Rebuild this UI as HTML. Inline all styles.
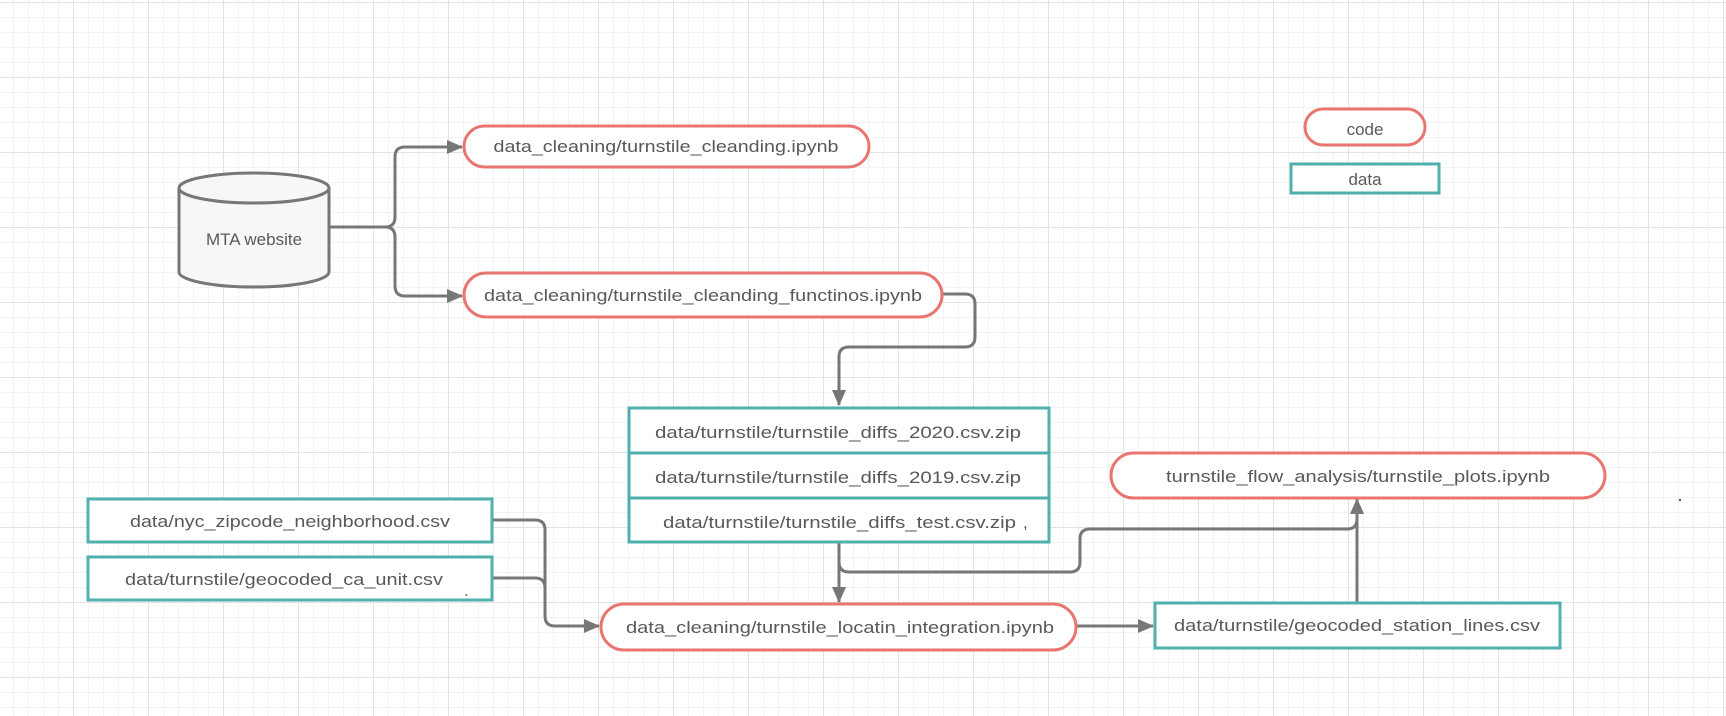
<!DOCTYPE html>
<html><head><meta charset="utf-8"><style>
html,body{margin:0;padding:0;}
body{width:1726px;height:716px;overflow:hidden;background:#fff;}
svg{display:block}
text{font-family:"Liberation Sans",sans-serif;font-size:17px;fill:#595959;}
</style></head><body>
<svg width="1726" height="716" viewBox="0 0 1726 716" xmlns="http://www.w3.org/2000/svg">
<defs>
<pattern id="minor" x="13" y="2" width="15" height="15" patternUnits="userSpaceOnUse">
<path d="M0 0H15M0 0V15" stroke="#efefef" stroke-width="1.5" fill="none"/>
</pattern>
<pattern id="major" x="73" y="2" width="75" height="75" patternUnits="userSpaceOnUse">
<path d="M0 0H75M0 0V75" stroke="#e3e3e3" stroke-width="2" fill="none"/>
</pattern>
<marker id="ar" markerWidth="16" markerHeight="16" refX="15" refY="8" orient="auto" markerUnits="userSpaceOnUse" viewBox="0 0 16 16">
<path d="M0 1L16 8L0 15z" fill="#777"/>
</marker>
</defs>
<rect width="1726" height="716" fill="url(#minor)"/>
<rect width="1726" height="716" fill="url(#major)"/>

<g fill="none" stroke="#777" stroke-width="3">
<path d="M328 227H385Q395 227 395 217V157Q395 147 405 147H462" marker-end="url(#ar)" stroke-linejoin="round"/>
<path d="M385 227Q395 227 395 237V286Q395 296 405 296H462" marker-end="url(#ar)"/>
<path d="M943 294H965Q975 294 975 304V337Q975 347 965 347H849Q839 347 839 357V405" marker-end="url(#ar)"/>
<path d="M839 543V602" marker-end="url(#ar)"/>
<path d="M839 543V562Q839 572 849 572H1070Q1080 572 1080 562V539Q1080 529 1090 529H1347Q1357 529 1357 519V499" marker-end="url(#ar)"/>
<path d="M1357 602V510"/>
<path d="M492 520H535Q545 520 545 530V616Q545 626 555 626H599" marker-end="url(#ar)"/>
<path d="M492 578H535Q545 578 545 588"/>
<path d="M1077 626H1153" marker-end="url(#ar)"/>
</g>

<g stroke="#777" stroke-width="3" fill="#f7f7f7">
<path d="M179 188V272A75 15 0 0 0 329 272V188"/>
<ellipse cx="254" cy="188" rx="75" ry="15"/>
</g>
<text x="254" y="245" text-anchor="middle" font-size="19">MTA website</text>

<g fill="#fff" stroke="#e8766f" stroke-width="3">
<rect x="464" y="126" width="405" height="41" rx="20.5"/>
<rect x="464" y="273" width="478" height="44" rx="22"/>
<rect x="1111" y="453" width="494" height="45" rx="22.5"/>
<rect x="601" y="604" width="475" height="46" rx="23"/>
<rect x="1305" y="109" width="120" height="36" rx="18"/>
</g>
<g fill="#fff" stroke="#4fb0ae" stroke-width="3">
<rect x="629" y="408" width="420" height="134"/>
<line x1="629" y1="453" x2="1049" y2="453"/>
<line x1="629" y1="498" x2="1049" y2="498"/>
<rect x="88" y="499" width="404" height="43"/>
<rect x="88" y="557" width="404" height="43"/>
<rect x="1155" y="603" width="405" height="45"/>
<rect x="1291" y="164" width="148" height="29"/>
</g>

<text x="666" y="152" text-anchor="middle" textLength="345" lengthAdjust="spacingAndGlyphs">data_cleaning/turnstile_cleanding.ipynb</text>
<text x="703" y="301" text-anchor="middle" textLength="438" lengthAdjust="spacingAndGlyphs">data_cleaning/turnstile_cleanding_functinos.ipynb</text>
<text x="838" y="438" text-anchor="middle" textLength="366" lengthAdjust="spacingAndGlyphs">data/turnstile/turnstile_diffs_2020.csv.zip</text>
<text x="838" y="483" text-anchor="middle" textLength="366" lengthAdjust="spacingAndGlyphs">data/turnstile/turnstile_diffs_2019.csv.zip</text>
<text x="663" y="528" textLength="353" lengthAdjust="spacingAndGlyphs">data/turnstile/turnstile_diffs_test.csv.zip</text>
<text x="1023" y="528">,</text>
<text x="1358" y="482" text-anchor="middle" textLength="384" lengthAdjust="spacingAndGlyphs">turnstile_flow_analysis/turnstile_plots.ipynb</text>
<text x="290" y="527" text-anchor="middle" textLength="320" lengthAdjust="spacingAndGlyphs">data/nyc_zipcode_neighborhood.csv</text>
<text x="284" y="585" text-anchor="middle" textLength="318" lengthAdjust="spacingAndGlyphs">data/turnstile/geocoded_ca_unit.csv</text>
<text x="464" y="596" font-size="8">.</text>
<text x="840" y="633" text-anchor="middle" textLength="428" lengthAdjust="spacingAndGlyphs">data_cleaning/turnstile_locatin_integration.ipynb</text>
<text x="1357" y="631" text-anchor="middle" textLength="366" lengthAdjust="spacingAndGlyphs">data/turnstile/geocoded_station_lines.csv</text>
<text x="1365" y="135" text-anchor="middle" font-size="18">code</text>
<text x="1365" y="185" text-anchor="middle" font-size="18">data</text>
<circle cx="1680" cy="500" r="1.2" fill="#555"/>
</svg>
</body></html>
